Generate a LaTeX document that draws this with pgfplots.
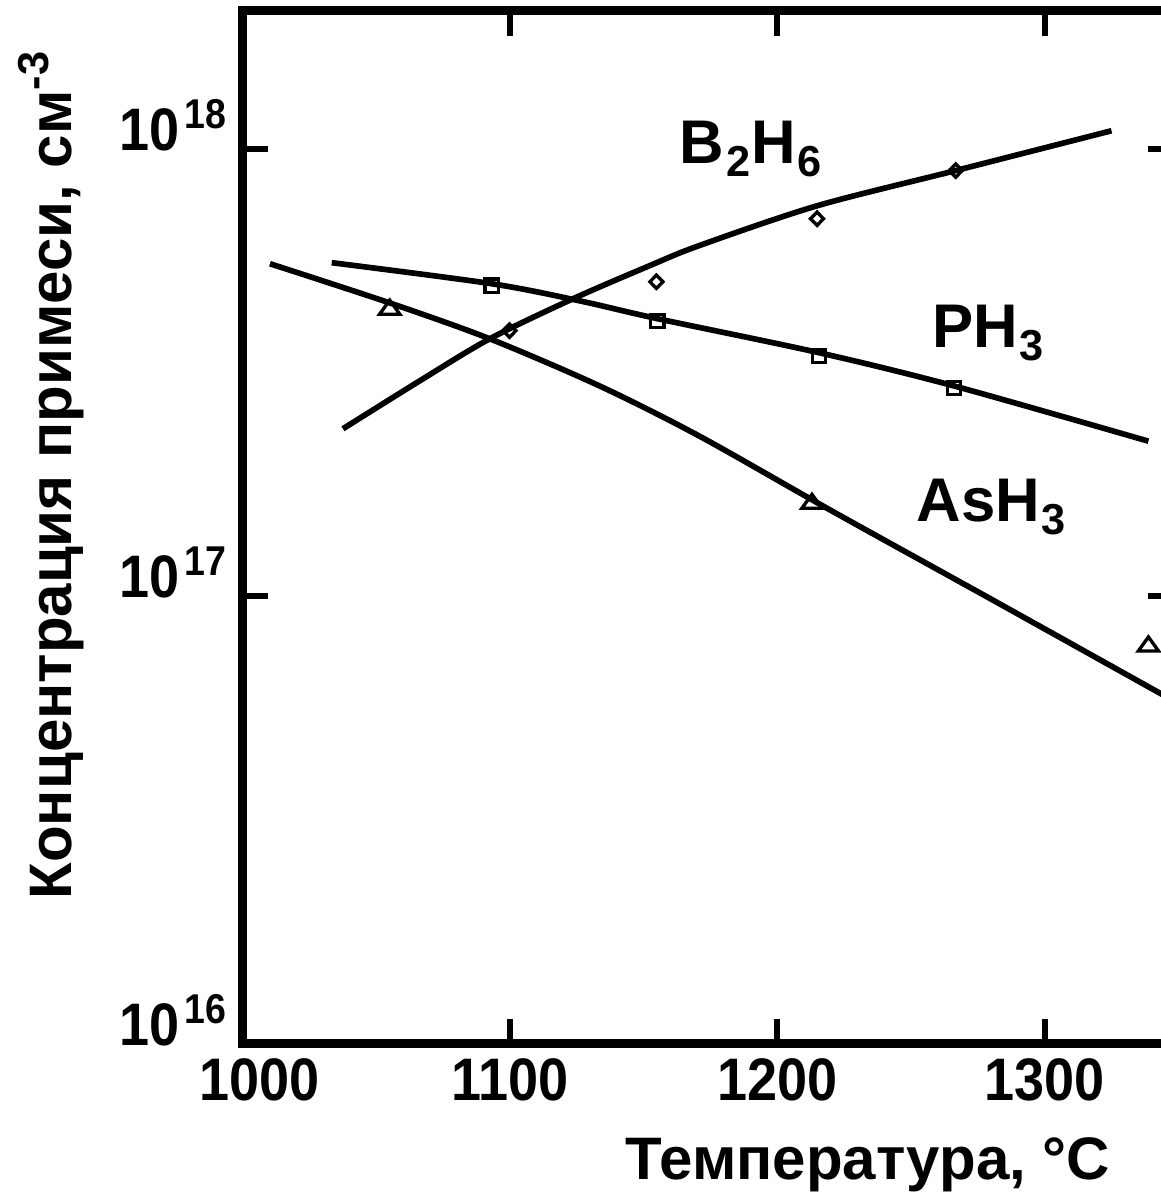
\documentclass[border=0pt]{standalone}
\usepackage{fontspec}
\setmainfont{Liberation Sans}
\newfontfamily\tickfont{Liberation Sans}[FakeStretch=0.9]
\usepackage{pgfplots}
\pgfplotsset{compat=1.18}
\newcommand\yl[1]{10\hspace{1.5pt}\raisebox{6.6pt}{\fontsize{12.5}{12.5}\selectfont #1}}
\newcommand\sub[1]{\hspace{0.5pt}\raisebox{-3.8pt}{\fontsize{13}{13}\selectfont #1}\hspace{0.5pt}}
\begin{document}
\begin{tikzpicture}
\begin{axis}[
  at={(0,0)}, anchor=south west,
  scale only axis, width=279pt, height=309.9pt,
  xmin=1000, xmax=1348, ymin=1e16, ymax=2.03e18,
  ymode=log,
  xtick={1000,1100,1200,1300},
  xticklabels={{\hspace*{10pt}1000},1100,1200,1300},
  ytick={1e16,1e17,1e18},
  yticklabels={\yl{16},\yl{17},\yl{18}},
  yminorticks=false, xminorticks=false,
  tick align=inside,
  major tick length=7.5pt,
  every tick/.style={black, line width=1.8pt},
  axis line style={line width=2.7pt},
  tick label style={font=\fontsize{18}{18}\selectfont\tickfont\bfseries, inner sep=0pt},
  xticklabel style={anchor=north, yshift=-4.2pt},
  yticklabel style={anchor=base east, xshift=-4.8pt, yshift=-0.5pt},
  clip=false,
]
% B2H6 fitted curve
\addplot[black, line width=1.7pt, smooth] coordinates {
 (1037.4,2.366e17) (1066.1,3.027e17) (1092.3,3.758e17) (1123.3,4.613e17)
 (1152.0,5.47e17) (1170.7,6.07e17) (1214.8,7.45e17) (1266.7,8.93e17) (1325.0,1.096e18)};
% PH3 fitted curve
\addplot[black, line width=1.7pt, smooth] coordinates {
 (1033.2,5.56e17) (1093.0,4.99e17) (1125.9,4.57e17) (1155.0,4.17e17)
 (1215.5,3.50e17) (1266.0,2.95e17) (1338.8,2.22e17)};
% AsH3 fitted curve
\addplot[black, line width=1.7pt, smooth] coordinates {
 (1010.1,5.53e17) (1054.9,4.52e17) (1092.3,3.76e17) (1133.4,2.95e17)
 (1170.7,2.28e17) (1220.4,1.55e17) (1282.8,9.64e16) (1346.0,5.94e16)};
% data points
\addplot[only marks, mark=diamond, mark size=2pt, mark options={line width=1pt, fill=white, draw=black, xscale=1.3}] coordinates {
 (1099.7,3.92e17) (1154.7,5.04e17) (1214.8,6.97e17) (1266.7,8.93e17)};
\addplot[only marks, mark=square, mark size=2pt, mark options={line width=1pt, fill=white, draw=black}] coordinates {
 (1093.0,4.94e17) (1155.0,4.12e17) (1215.5,3.44e17) (1266.0,2.92e17)};
\addplot[only marks, mark=triangle, mark size=3.5pt, mark options={line width=1pt, fill=white, draw=black, yscale=0.8}] coordinates {
 (1054.9,4.37e17) (1212.9,1.61e17) (1338.8,7.73e16)};
\node[anchor=base west, inner sep=0pt, font=\fontsize{18.5}{18.5}\selectfont\bfseries] at (axis cs:1163.2,9.25e17) {B\sub{2}H\sub{6}};
\node[anchor=base west, inner sep=0pt, font=\fontsize{18.5}{18.5}\selectfont\bfseries] at (axis cs:1257.8,3.59e17) {PH\sub{3}};
\node[anchor=base west, inner sep=0pt, font=\fontsize{18.5}{18.5}\selectfont\bfseries] at (axis cs:1251.8,1.47e17) {AsH\sub{3}};
\end{axis}
\node[rotate=90, anchor=base west, inner sep=0pt, font=\fontsize{18}{18}\selectfont\bfseries] at (-51.3pt,43.2pt) {Концентрация примеси, см\raisebox{7pt}{\fontsize{13}{13}\selectfont -3}};
\node[anchor=base, inner sep=0pt, font=\fontsize{18}{18}\selectfont\bfseries] at (187.5pt,-40.5pt) {Температура, °C};
\pgfresetboundingbox
\useasboundingbox (-72.9pt,-45.9pt) rectangle (275.4pt,313.2pt);
\end{tikzpicture}
\end{document}
